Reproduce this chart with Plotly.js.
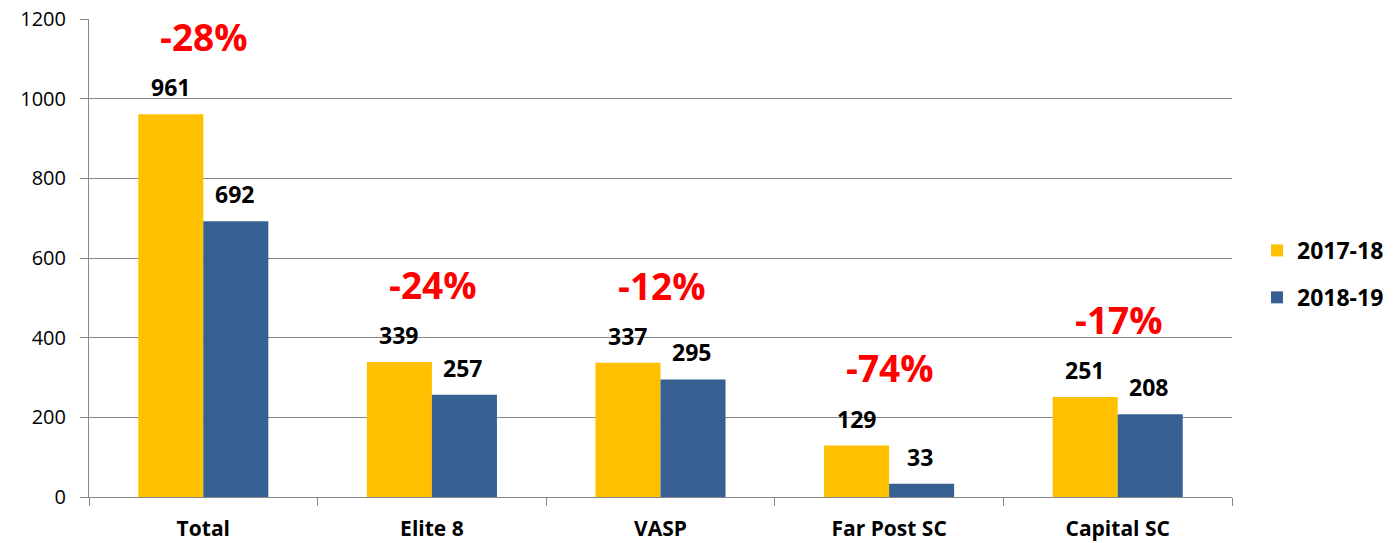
<!DOCTYPE html>
<html><head><meta charset="utf-8">
<script src="https://cdn.plot.ly/plotly-3.0.1.min.js"></script>
<style>html,body{margin:0;padding:0;background:#fff}#chart{width:1400px;height:543px}</style>
</head><body><div id="chart"></div>
<script>
const categories = ["Total", "Elite 8", "VASP", "Far Post SC", "Capital SC"];
const series2017 = [961, 339, 337, 129, 251];
const series2018 = [692, 257, 295, 33, 208];
const changeLabels = ["-28%", "-24%", "-12%", "-74%", "-17%"];
const seriesNames = ["2017-18", "2018-19"];
const yTicks = [0, 200, 400, 600, 800, 1000, 1200];

const FONT = "'Open Sans', Lato, sans-serif";
const colors = ["#FFC000", "#376092"];

const traces = [
  {type: "bar", name: "<b>" + seriesNames[0] + "</b>", legendgroup: "a", x: categories, y: series2017, marker: {color: colors[0]}, hoverinfo: "x+y"},
  {type: "bar", name: "<b>" + seriesNames[1] + "</b>", legendgroup: "b", x: categories, y: series2018, marker: {color: colors[1]}, hoverinfo: "x+y"}
];

const annotations = [];
categories.forEach((c, i) => {
  [series2017, series2018].forEach((s, k) => {
    annotations.push({
      x: c, y: s[i], xref: "x", yref: "y", text: "<b>" + s[i] + "</b>",
      showarrow: false, yanchor: "bottom", yshift: 9, xshift: k === 0 ? -33 : 31,
      font: {family: FONT, size: 23, color: "#000"}
    });
  });
  annotations.push({
    x: c, y: Math.max(series2017[i], series2018[i]) + 195, xref: "x", yref: "y",
    text: "<b>" + changeLabels[i] + "</b>", showarrow: false, yanchor: "middle", xshift: 1,
    font: {family: FONT, size: 37, color: "#FF0000"}
  });
});

const layout = {
  width: 1400, height: 543,
  margin: {l: 89, r: 168, t: 19, b: 46},
  paper_bgcolor: "#fff", plot_bgcolor: "#fff",
  barmode: "group", bargap: 0.431, bargroupgap: 0,
  font: {family: FONT, color: "#000"},
  xaxis: {
    type: "category", showline: true, linecolor: "#888", linewidth: 1,
    ticks: "outside", tickson: "boundaries", ticklen: 8, tickcolor: "#888",
    showgrid: false, zeroline: false,
    tickvals: categories, ticktext: categories.map(c => "<b>" + c + "</b>"),
    tickfont: {family: FONT, size: 21, color: "#000"}, ticklabelstandoff: 13
  },
  yaxis: {
    range: [0, 1200], tickvals: yTicks, ticktext: yTicks.map(String),
    showline: true, linecolor: "#888", linewidth: 1,
    ticks: "outside", ticklen: 8, tickcolor: "#888",
    showgrid: true, gridcolor: "#888", gridwidth: 1, zeroline: false,
    tickfont: {family: FONT, size: 20, color: "#000"}, ticklabelstandoff: 10
  },
  legend: {
    xref: "container", yref: "container",
    x: 1257 / 1400, xanchor: "left", y: 1 - 274 / 543, yanchor: "middle",
    font: {family: FONT, size: 23, color: "#000"},
    tracegroupgap: 14, itemwidth: 30, bgcolor: "rgba(0,0,0,0)"
  },
  annotations: annotations,
  showlegend: true
};

Plotly.newPlot("chart", traces, layout, {displayModeBar: false, staticPlot: true});
</script></body></html>
